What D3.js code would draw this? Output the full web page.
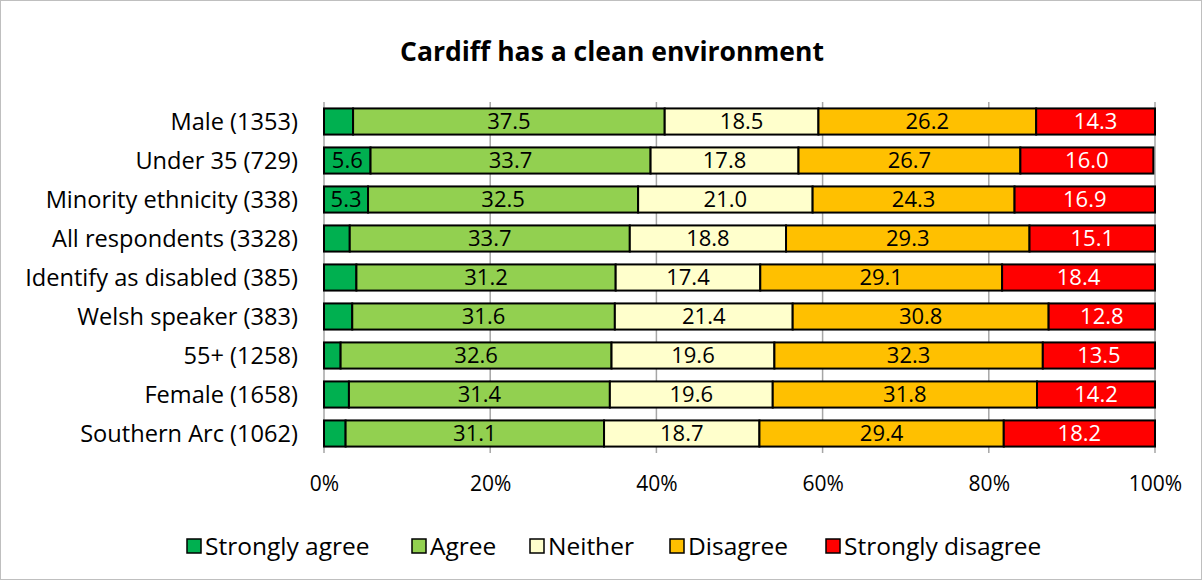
<!DOCTYPE html>
<html>
<head>
<meta charset="utf-8">
<script src="https://cdn.jsdelivr.net/npm/d3@7"></script>
<style>
  body { margin: 0; background: #fff; }
  svg { font-family: "Open Sans", Lato, sans-serif; }
</style>
</head>
<body>
<svg width="1202" height="580"></svg>
<script>
let categories = ['Male (1353)', 'Under 35 (729)', 'Minority ethnicity (338)', 'All respondents (3328)',
  'Identify as disabled (385)', 'Welsh speaker (383)', '55+ (1258)', 'Female (1658)', 'Southern Arc (1062)']
let seriesNames = ['Strongly agree', 'Agree', 'Neither', 'Disagree', 'Strongly disagree']
let stronglyAgree = [3.5, 5.6, 5.3, 3.1, 3.9, 3.4, 2.0, 3.0, 2.6]
let agree = [37.5, 33.7, 32.5, 33.7, 31.2, 31.6, 32.6, 31.4, 31.1]
let neither = [18.5, 17.8, 21.0, 18.8, 17.4, 21.4, 19.6, 19.6, 18.7]
let disagree = [26.2, 26.7, 24.3, 29.3, 29.1, 30.8, 32.3, 31.8, 29.4]
let stronglyDisagree = [14.3, 16.0, 16.9, 15.1, 18.4, 12.8, 13.5, 14.2, 18.2]
let tickValues = [0, 20, 40, 60, 80, 100]
let colors = ['#00B050', '#92D050', '#FFFFCC', '#FFC000', '#FF0000']
let textColors = ['#000', '#000', '#000', '#000', '#fff']

let svg = d3.select('svg')

svg.append('rect')
  .attr('x', 0.5).attr('y', 0.5).attr('width', 1201).attr('height', 579)
  .attr('fill', '#fff').attr('stroke', '#bfbfbf')

svg.append('text')
  .attr('x', 612).attr('y', 61)
  .attr('text-anchor', 'middle')
  .attr('font-size', 26.5).attr('font-weight', 'bold')
  .text('Cardiff has a clean environment')

let rows = categories.map((c, i) => ({
  cat: c,
  'Strongly agree': stronglyAgree[i],
  'Agree': agree[i],
  'Neither': neither[i],
  'Disagree': disagree[i],
  'Strongly disagree': stronglyDisagree[i]
}))

let x = d3.scaleLinear().domain([0, 100]).range([324, 1155])
let y = d3.scaleBand().domain(categories).range([102, 453]).paddingInner(0.33).paddingOuter(0.165)

// gridlines
svg.append('g').selectAll('line').data(tickValues).join('line')
  .attr('x1', d => x(d)).attr('x2', d => x(d))
  .attr('y1', 102).attr('y2', 453)
  .attr('stroke', '#a6a6a6').attr('stroke-width', 1.5)

let stack = d3.stack().keys(seriesNames)(rows)

let groups = svg.append('g').selectAll('g').data(stack).join('g')
  .attr('fill', (d, i) => colors[i])

groups.selectAll('rect').data(d => d).join('rect')
  .attr('x', d => x(d[0]))
  .attr('y', d => y(d.data.cat))
  .attr('width', d => x(d[1]) - x(d[0]))
  .attr('height', y.bandwidth())
  .attr('stroke', '#000').attr('stroke-width', 2)

groups.each(function (s, si) {
  d3.select(this).selectAll('text').data(s.filter(d => d[1] - d[0] >= 5)).join('text')
    .attr('x', d => (x(d[0]) + x(d[1])) / 2)
    .attr('y', d => y(d.data.cat) + y.bandwidth() / 2)
    .attr('dy', '0.36em')
    .attr('text-anchor', 'middle')
    .attr('font-size', 22)
    .attr('fill', textColors[si])
    .text(d => d3.format('.1f')(d[1] - d[0]))
})

// category labels
svg.append('g').selectAll('text').data(categories).join('text')
  .attr('x', 298)
  .attr('y', d => y(d) + y.bandwidth() / 2)
  .attr('dy', '0.36em')
  .attr('text-anchor', 'end')
  .attr('font-size', 23.6)
  .text(d => d)

// x axis labels
let xAxis = d3.axisBottom(x).tickValues(tickValues).tickFormat(d => d + '%').tickSize(0).tickPadding(0)
let ax = svg.append('g').attr('transform', 'translate(0,476)').call(xAxis)
ax.select('.domain').remove()
ax.selectAll('text').attr('font-size', 21).attr('font-family', '"Open Sans", Lato, sans-serif').attr('fill', '#000')

// legend
let legendX = [187, 412, 530, 670, 826]
let legend = svg.append('g').selectAll('g').data(seriesNames).join('g')
  .attr('transform', (d, i) => `translate(${legendX[i]},546)`)
legend.append('rect')
  .attr('x', 0).attr('y', -7).attr('width', 14).attr('height', 14)
  .attr('fill', (d, i) => colors[i]).attr('stroke', '#000').attr('stroke-width', 1.5)
legend.append('text')
  .attr('x', 18).attr('dy', '0.36em')
  .attr('font-size', 24.5)
  .text(d => d)
</script>
</body>
</html>
